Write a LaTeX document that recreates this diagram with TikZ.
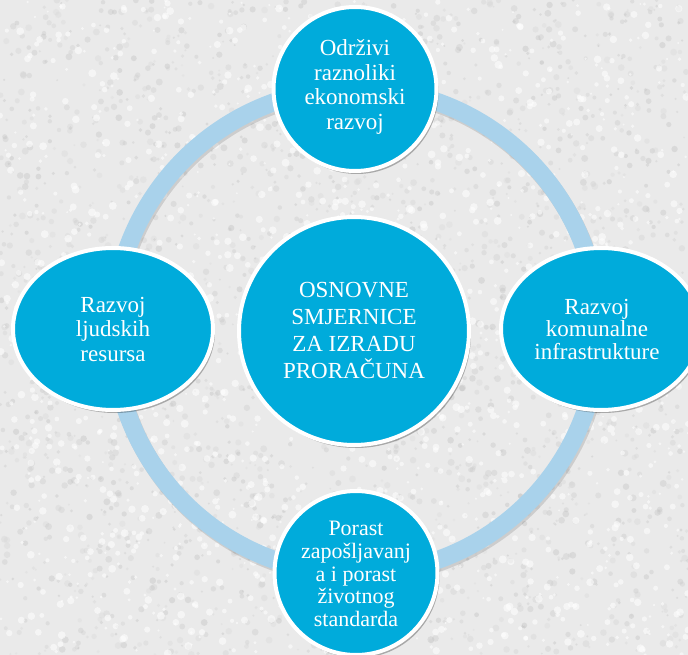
\documentclass[tikz,border=0pt]{standalone}
\usepackage{fontspec}
\setmainfont{Liberation Serif}
\usetikzlibrary{shapes.geometric,shadows}
\definecolor{bgc}{HTML}{EAEAEA}
\definecolor{cyanfill}{HTML}{00ABDB}
\definecolor{ringc}{HTML}{A9D2EB}
\begin{document}
\begin{tikzpicture}[x=1pt,y=-1pt,
  bubble/.style={ellipse, fill=cyanfill, draw=white, line width=4pt, inner sep=0pt,
    drop shadow={shadow xshift=2pt, shadow yshift=-3pt, opacity=0.28, fill=black}},
  txt/.style={text=white, align=center, inner sep=0pt, font=\fontsize{23}{24.5}\selectfont},
  bigtxt/.style={text=white, align=center, inner sep=0pt, font=\fontsize{23}{27}\selectfont},
  ring/.style={draw=ringc, line width=18pt},
  ringshadow/.style={draw=black, opacity=0.12, line width=18pt}]
\fill[bgc] (0,0) rectangle (688,655);
\useasboundingbox (0,0) rectangle (688,655);
% stone texture
\pgfmathsetseed{42}
\foreach \i in {1,...,2600}{
  \pgfmathsetmacro{\xx}{rnd*688}
  \pgfmathsetmacro{\yy}{rnd*655}
  \pgfmathsetmacro{\rr}{1+rnd*2.5}
  \pgfmathtruncatemacro{\gg}{rnd*15+15}
  \fill[black!\gg!white, opacity=0.3] (\xx,\yy) circle (\rr);
}
\foreach \i in {1,...,1400}{
  \pgfmathsetmacro{\xx}{rnd*688}
  \pgfmathsetmacro{\yy}{rnd*655}
  \pgfmathsetmacro{\rr}{1+rnd*3}
  \fill[white, opacity=0.55] (\xx,\yy) circle (\rr);
}
% ring
\coordinate (hub) at (356,331);
\draw[ringshadow] ([shift={(1.5,2.5)}]hub) circle (243);
\draw[ring] (hub) circle (243);
% nodes
\node[bubble, minimum width=200pt, minimum height=162pt] (left) at (113,329) {};
\node[bubble, minimum width=200pt, minimum height=162pt] (right) at (601,329) {};
\node[bubble, minimum width=163pt, minimum height=164pt] (top) at (355,89) {};
\node[bubble, minimum width=163pt, minimum height=164pt] (bottom) at (356,573) {};
\node[bubble, minimum width=230pt, minimum height=228pt] (center) at (354,331) {};
% texts
\node[txt] (toptxt) at ([yshift=2pt]top.center) {Održivi\\raznoliki\\ekonomski\\razvoj};
\node[txt] (lefttxt) at (left.center) {Razvoj\\ljudskih\\resursa};
\node[txt, font=\fontsize{23}{22.5}\selectfont] (righttxt) at ([xshift=-4pt]right.center) {Razvoj\\komunalne\\infrastrukture};
\node[txt, font=\fontsize{22}{22.8}\selectfont] (bottomtxt) at ([yshift=-1pt]bottom.center) {Porast\\zapošljavanj\\a i porast\\životnog\\standarda};
\node[bigtxt] (centertxt) at ([yshift=1pt]center.center) {OSNOVNE\\SMJERNICE\\ZA IZRADU\\PRORAČUNA};
\end{tikzpicture}
\end{document}
